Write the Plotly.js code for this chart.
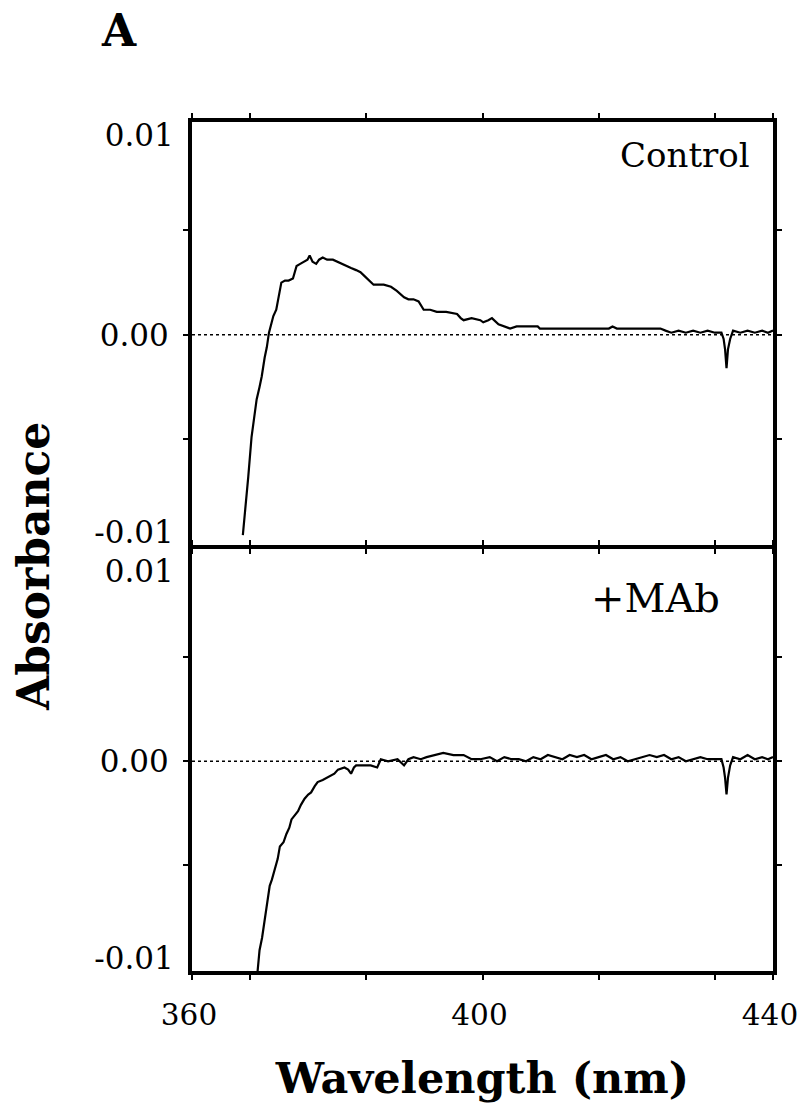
<!DOCTYPE html>
<html>
<head>
<meta charset="utf-8">
<script src="https://cdn.plot.ly/plotly-3.0.1.min.js"></script>
<style>
  html, body { margin: 0; padding: 0; background: #fff; }
  #chart { width: 799px; height: 1120px; }
</style>
</head>
<body>
<div id="chart"></div>
<script>
// ---- data ----
const ctrlWavelength = [367.0, 367.4, 367.75, 368.2, 368.6, 368.9, 369.3, 369.6, 370.0, 370.3,
  370.6, 370.9, 371.2, 371.6, 371.9, 372.3, 372.8, 373.3, 373.9, 374.4,
  374.9, 375.5, 375.9, 376.2, 376.6, 377.1, 377.5, 378.0, 378.6, 379.4,
  380.0, 380.5, 381.2, 381.9, 382.6, 383.2, 383.8, 384.4, 385.0, 385.5,
  386.4, 387.4, 388.2, 389.2, 389.8, 390.5, 391.2, 391.9, 392.8, 393.7,
  395.0, 396.5, 397.0, 397.4, 398.5, 399.7, 400.1, 400.8, 401.3, 402.2,
  403.0, 403.8, 404.7, 406.0, 407.6, 407.9, 410.0, 412.9, 415.0, 417.4,
  417.9, 418.5, 420.0, 422.0, 424.5, 425.2, 426.0, 427.0, 428.0, 429.0,
  430.0, 431.0, 432.0, 432.9, 433.2, 433.4, 433.6, 433.8, 434.1, 434.5,
  435.5, 436.5, 437.5, 438.5, 439.3, 440.0];
const ctrlAbsorbance = [-0.0096, -0.0082, -0.0068, -0.0049, -0.0038, -0.0031, -0.0025, -0.0020, -0.0011, -0.0006,
  0.0001, 0.0005, 0.0009, 0.0012, 0.0017, 0.0025, 0.0026, 0.0026, 0.0027, 0.0033,
  0.0034, 0.0035, 0.0036, 0.0038, 0.0035, 0.0034, 0.0036, 0.0037, 0.0036, 0.0036,
  0.0035, 0.0034, 0.0033, 0.0032, 0.0031, 0.0030, 0.0028, 0.0026, 0.0024, 0.0024,
  0.0024, 0.0023, 0.0021, 0.0018, 0.0017, 0.0017, 0.0016, 0.0012, 0.0012, 0.0011,
  0.0011, 0.0010, 0.0008, 0.0007, 0.0008, 0.0007, 0.0006, 0.0007, 0.0008, 0.0005,
  0.0004, 0.0003, 0.0004, 0.0004, 0.0004, 0.0003, 0.0003, 0.0003, 0.0003, 0.0003,
  0.0004, 0.0003, 0.0003, 0.0003, 0.0003, 0.0002, 0.0001, 0.0002, 0.0001, 0.0002,
  0.0001, 0.0002, 0.0001, 0.0001, -0.0002, -0.0007, -0.0016, -0.0007, -0.0002, 0.0002,
  0.0001, 0.0002, 0.0001, 0.0002, 0.0001, 0.0002];

const mabWavelength = [368.85, 369.3, 369.65, 370.0, 370.4, 370.7, 371.0, 371.4, 371.8, 372.1,
  372.6, 373.0, 373.4, 373.7, 374.2, 374.6, 375.0, 375.5, 376.0, 376.4,
  376.9, 377.3, 378.0, 378.5, 379.1, 379.6, 380.1, 381.0, 381.5, 381.9,
  382.3, 382.6, 383.5, 384.6, 385.5, 386.0, 387.0, 388.3, 389.2, 389.8,
  390.5, 391.5, 392.3, 393.3, 394.6, 396.0, 397.4, 398.5, 399.7, 401.0,
  402.0, 403.0, 404.0, 405.0, 406.0, 407.0, 408.0, 409.0, 410.0, 411.0,
  412.0, 413.0, 414.0, 415.0, 416.0, 417.0, 418.0, 419.0, 420.0, 421.0,
  422.0, 423.0, 424.0, 425.0, 426.0, 427.0, 428.0, 429.0, 430.0, 431.0,
  432.0, 432.9, 433.2, 433.4, 433.6, 433.8, 434.1, 434.5, 435.5, 436.5,
  437.5, 438.5, 439.3, 440.0];
const mabAbsorbance = [-0.0108, -0.0091, -0.0085, -0.0076, -0.0068, -0.0060, -0.0057, -0.0052, -0.0047, -0.0041,
  -0.0039, -0.0035, -0.0032, -0.0028, -0.0026, -0.0024, -0.0021, -0.0018, -0.0016, -0.0015,
  -0.0012, -0.0010, -0.0009, -0.0008, -0.0007, -0.0006, -0.0004, -0.0003, -0.0004, -0.0006,
  -0.0003, -0.0002, -0.0002, -0.0002, -0.0003, 0.0001, 0.0000, 0.0001, -0.0002, 0.0001,
  0.0002, 0.0001, 0.0002, 0.0003, 0.0004, 0.0003, 0.0003, 0.0001, 0.0001, 0.0002,
  0.0000, 0.0002, 0.0001, 0.0001, 0.0000, 0.0002, 0.0001, 0.0003, 0.0002, 0.0001,
  0.0003, 0.0002, 0.0003, 0.0001, 0.0002, 0.0003, 0.0001, 0.0002, 0.0000, 0.0001,
  0.0002, 0.0003, 0.0002, 0.0003, 0.0001, 0.0002, 0.0000, 0.0001, 0.0002, 0.0001,
  0.0001, 0.0001, -0.0003, -0.0008, -0.0016, -0.0008, -0.0002, 0.0002, 0.0001, 0.0003,
  0.0001, 0.0002, 0.0001, 0.0002];

const xRange = [360, 440];
const xTickLabelVals = [360, 400, 440];
const xTickLabels = ['360', '400', '440'];
const xMinorTickVals = [368, 384, 416, 432];
const yRange = [-0.0101, 0.0102];
const yMidTickVals = [0];
const yMidTickLabels = ['0.00'];
const yTopTickVals = [0.01];
const yTopTickLabels = ['0.01'];
const yBottomTickVals = [-0.01];
const yBottomTickLabels = ['-0.01'];
const yMinorTickVals = [-0.005, 0.005];
const baselineValue = 0;
const panelLabels = ['Control', '+MAb'];
const figureLetter = 'A';
const xTitle = 'Wavelength (nm)';
const yTitle = 'Absorbance';

// ---- styling ----
const FONT = 'DejaVu Serif';
const BLACK = '#000';
const YTICK_SIZE = 31;
const XTICK_SIZE = 29.5;

function xAxis(anchor, showLabels) {
  return {
    anchor: anchor, domain: [0, 1], range: xRange,
    tickvals: xTickLabelVals, ticktext: xTickLabels,
    showticklabels: showLabels, ticklabeloverflow: 'allow', ticklabelshift: -3,
    ticks: 'outside', ticklen: 5, tickwidth: 2, tickcolor: BLACK,
    minor: { tickvals: xMinorTickVals, ticks: 'outside', ticklen: 5, tickwidth: 2, tickcolor: BLACK },
    showline: true, linewidth: 4, linecolor: BLACK, mirror: 'allticks',
    showgrid: false, zeroline: false,
    tickfont: { family: FONT, size: XTICK_SIZE, color: BLACK },
    ticklabelstandoff: 10
  };
}
function yAxisMain(anchor, domain) {
  return {
    anchor: anchor, domain: domain, range: yRange,
    tickvals: yMidTickVals, ticktext: yMidTickLabels,
    ticks: 'outside', ticklen: 5, tickwidth: 2, tickcolor: BLACK,
    minor: { tickvals: yMinorTickVals, ticks: 'outside', ticklen: 5, tickwidth: 2, tickcolor: BLACK },
    showline: true, linewidth: 4, linecolor: BLACK, mirror: 'allticks',
    showgrid: false, zeroline: false, ticklabeloverflow: 'allow',
    tickfont: { family: FONT, size: YTICK_SIZE, color: BLACK },
    ticklabelstandoff: 8
  };
}
function yAxisOverlay(anchor, over, vals, labels, pos, shift) {
  return {
    anchor: anchor, overlaying: over, side: 'left', range: yRange,
    tickvals: vals, ticktext: labels, ticklabelposition: pos, ticklabelshift: shift,
    ticks: 'outside', ticklen: 5, tickwidth: 2, tickcolor: 'rgba(0,0,0,0)',
    showline: true, linewidth: 4, linecolor: BLACK,
    showgrid: false, zeroline: false, ticklabeloverflow: 'allow',
    tickfont: { family: FONT, size: YTICK_SIZE, color: BLACK },
    ticklabelstandoff: 8
  };
}

const lineStyle = { color: BLACK, width: 2.2 };
const traces = [
  { x: ctrlWavelength, y: ctrlAbsorbance, xaxis: 'x', yaxis: 'y', mode: 'lines', line: lineStyle, hoverinfo: 'skip' },
  { x: mabWavelength, y: mabAbsorbance, xaxis: 'x2', yaxis: 'y2', mode: 'lines', line: lineStyle, hoverinfo: 'skip' },
  { x: [], y: [], xaxis: 'x', yaxis: 'y3', mode: 'lines', hoverinfo: 'skip' },
  { x: [], y: [], xaxis: 'x', yaxis: 'y4', mode: 'lines', hoverinfo: 'skip' },
  { x: [], y: [], xaxis: 'x2', yaxis: 'y5', mode: 'lines', hoverinfo: 'skip' },
  { x: [], y: [], xaxis: 'x2', yaxis: 'y6', mode: 'lines', hoverinfo: 'skip' }
];

const topDomain = [0.5012, 1];
const botDomain = [0, 0.4965];

const xa2 = xAxis('y2', true);
xa2.title = { text: xTitle, font: { family: FONT, size: 43, color: BLACK, weight: 'bold' }, standoff: 32 };

const layout = {
  width: 799, height: 1120,
  margin: { l: 192, r: 26, t: 122, b: 149, pad: 0 },
  paper_bgcolor: '#fff', plot_bgcolor: '#fff',
  showlegend: false,
  font: { family: FONT, color: BLACK },
  xaxis: xAxis('y', false),
  yaxis: yAxisMain('x', topDomain),
  xaxis2: xa2,
  yaxis2: yAxisMain('x2', botDomain),
  yaxis3: yAxisOverlay('x', 'y', yTopTickVals, yTopTickLabels, 'outside bottom', -14),
  yaxis4: yAxisOverlay('x', 'y', yBottomTickVals, yBottomTickLabels, 'outside top', 11),
  yaxis5: yAxisOverlay('x2', 'y2', yTopTickVals, yTopTickLabels, 'outside bottom', -5),
  yaxis6: yAxisOverlay('x2', 'y2', yBottomTickVals, yBottomTickLabels, 'outside top', 12),
  shapes: [
    { type: 'line', layer: 'below', xref: 'x domain', x0: 0, x1: 1, yref: 'y', y0: baselineValue, y1: baselineValue,
      line: { color: BLACK, width: 1.5, dash: '3px,3px' } },
    { type: 'line', layer: 'below', xref: 'x2 domain', x0: 0, x1: 1, yref: 'y2', y0: baselineValue, y1: baselineValue,
      line: { color: BLACK, width: 1.5, dash: '3px,3px' } }
  ],
  annotations: [
    { text: panelLabels[0], xref: 'x domain', yref: 'y domain', x: 0.964, y: 0.922,
      xanchor: 'right', yanchor: 'middle', showarrow: false,
      font: { family: FONT, size: 34, color: BLACK } },
    { text: panelLabels[1], xref: 'x2 domain', yref: 'y2 domain', x: 0.912, y: 0.885,
      xanchor: 'right', yanchor: 'middle', showarrow: false,
      font: { family: FONT, size: 40, color: BLACK } },
    { text: figureLetter, xref: 'paper', yref: 'paper', x: -0.1256, y: 1.108,
      xanchor: 'center', yanchor: 'middle', showarrow: false,
      font: { family: FONT, size: 44, color: BLACK, weight: 'bold' } },
    { text: yTitle, xref: 'paper', yref: 'paper', x: -0.2737, y: 0.477, textangle: -90,
      xanchor: 'center', yanchor: 'middle', showarrow: false,
      font: { family: FONT, size: 44, color: BLACK, weight: 'bold' } }
  ]
};

Plotly.newPlot('chart', traces, layout, { staticPlot: true, displayModeBar: false });
</script>
</body>
</html>
